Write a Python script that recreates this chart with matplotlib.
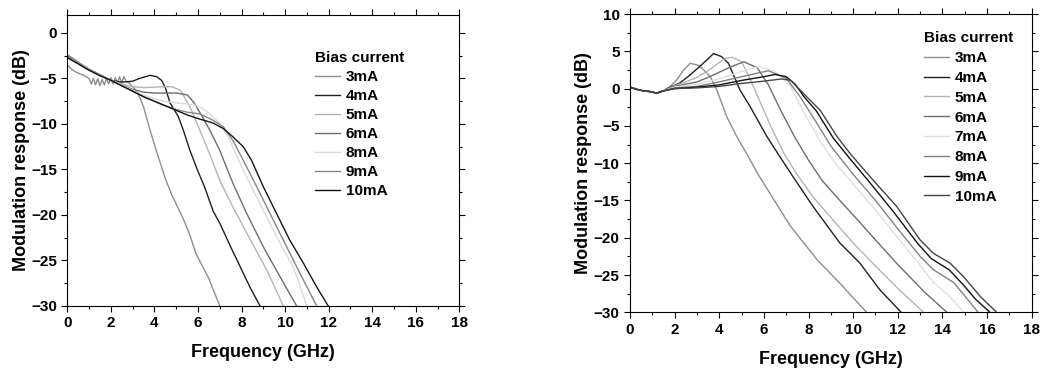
import matplotlib
matplotlib.use("Agg")
import matplotlib.pyplot as plt
from matplotlib.ticker import MultipleLocator

plt.rcParams['font.family'] = ['Liberation Sans', 'DejaVu Sans']
plt.rcParams['font.weight'] = 'bold'

# ---- left panel data (frequency GHz, response dB) ----
left_labels = ['3mA', '4mA', '5mA', '6mA', '8mA', '9mA', '10mA']
left_colors = ['#8e8e8e', '#202020', '#b4b4b4', '#6e6e6e', '#dadada', '#858585', '#151515']

l3_f = [0, 0.2, 0.4, 0.6, 0.8, 1.0, 1.1, 1.2, 1.3, 1.4, 1.5, 1.6, 1.7, 1.8, 1.9, 2.0, 2.1, 2.2, 2.3, 2.4, 2.5, 2.6, 2.7,
        2.85, 3.0, 3.2, 3.5, 3.8, 4.03, 4.3, 4.5, 4.8, 5.0, 5.3, 5.6, 5.9, 6.2, 6.5, 6.8, 7.0]
l3_d = [-3.5, -4.0, -4.3, -4.5, -4.7, -5.0, -5.6, -5.0, -5.7, -5.0, -5.8, -5.1, -5.7, -5.0, -5.6, -4.9, -5.6, -4.9, -5.5, -4.8,
        -5.5, -4.8, -5.3, -5.5, -5.9, -6.4, -8.1, -10.7, -12.5, -14.5, -16.0, -17.8, -18.8, -20.3, -22.0, -24.2, -25.6, -27.0, -28.8, -30.0]
l4_f = [0, 0.5, 1.0, 1.5, 2.0, 2.5, 3.0, 3.3, 3.6, 3.8, 4.1, 4.33, 4.5, 4.72, 5.1, 5.33, 5.63, 6.0, 6.3, 6.7, 7.0,
        7.5, 8.0, 8.4, 8.85]
l4_d = [-2.6, -3.3, -4.0, -4.6, -5.2, -5.4, -5.3, -5.0, -4.8, -4.65, -4.8, -5.2, -6.0, -7.7, -9.2, -10.7, -12.9, -15.2, -16.9, -19.6, -20.9,
        -23.5, -26.0, -28.0, -30.0]
l5_f = [0, 0.5, 1.0, 1.5, 2.0, 2.5, 3.0, 3.5, 4.0, 4.5, 4.8, 5.2, 5.63, 6.09, 6.4, 6.7, 7.0, 7.6, 8.4, 9.15, 9.92]
l5_d = [-2.4, -3.2, -4.0, -4.6, -5.2, -5.6, -5.9, -6.0, -5.95, -5.9, -5.9, -6.3, -8.1, -10.7, -12.5, -14.3, -16.2, -19.1, -22.7, -26.0, -30.0]
l6_f = [0, 0.5, 1.0, 1.5, 2.0, 2.5, 3.0, 3.5, 4.0, 4.5, 5.0, 5.5, 5.8, 6.1, 6.55, 7.0, 7.6, 8.23, 9.0, 9.77, 10.53]
l6_d = [-2.4, -3.2, -4.0, -4.6, -5.2, -5.7, -6.2, -6.5, -6.6, -6.6, -6.6, -6.8, -7.6, -8.8, -10.7, -12.9, -16.5, -19.8, -23.5, -26.8, -30.0]
l8_f = [0, 0.5, 1.0, 1.5, 2.0, 2.5, 3.0, 3.5, 4.0, 4.5, 5.0, 5.5, 6.0, 6.4, 7.0, 7.47, 7.93, 8.54, 9.15, 9.92, 10.38, 11.0]
l8_d = [-2.5, -3.3, -4.0, -4.6, -5.2, -5.7, -6.3, -6.8, -7.2, -7.5, -7.7, -7.8, -8.0, -8.6, -9.9, -11.8, -14.3, -17.3, -20.2, -23.8, -25.7, -30.0]
l9_f = [0, 0.5, 1.0, 1.5, 2.0, 2.5, 3.0, 3.5, 4.0, 4.5, 5.0, 5.5, 6.1, 6.7, 7.16, 7.6, 8.08, 8.7, 9.3, 10.07, 10.68, 11.45]
l9_d = [-2.5, -3.3, -4.0, -4.6, -5.2, -5.8, -6.4, -7.0, -7.5, -8.0, -8.4, -8.7, -8.9, -9.6, -10.3, -11.8, -14.0, -16.9, -19.8, -23.5, -26.4, -30.0]
l10_f = [0, 0.5, 1.0, 1.5, 2.0, 2.5, 3.0, 3.5, 4.0, 4.5, 5.0, 5.5, 6.0, 6.7, 7.16, 7.6, 8.08, 8.46, 9.0, 9.6, 10.2, 10.84, 11.45, 11.98]
l10_d = [-2.7, -3.4, -4.1, -4.7, -5.2, -5.8, -6.4, -7.0, -7.5, -8.0, -8.5, -9.0, -9.4, -9.9, -10.5, -11.4, -12.5, -14.0, -16.9, -19.8, -22.7, -25.3, -27.9, -30.0]

# ---- right panel data ----
right_labels = ['3mA', '4mA', '5mA', '6mA', '7mA', '8mA', '9mA', '10mA']
right_colors = ['#8e8e8e', '#202020', '#b4b4b4', '#6e6e6e', '#e0e0e0', '#828282', '#111111', '#444444']

base_f = [0, 0.3, 0.6, 0.9, 1.2, 1.5]
base_d = [0.2, -0.1, -0.3, -0.4, -0.6, -0.3]
r3_f = base_f + [1.8, 2.1, 2.4, 2.7, 3.1, 3.6, 3.89, 4.34, 4.78, 5.2, 5.8, 6.3, 7.2, 8.4, 9.4, 10.6]
r3_d = base_d + [0.3, 1.2, 2.5, 3.4, 3.1, 1.6, -0.2, -3.8, -6.4, -8.6, -11.8, -14.2, -18.5, -23.0, -26.1, -30.0]
r4_f = base_f + [1.8, 2.2, 2.6, 3.1, 3.5, 3.74, 4.1, 4.41, 4.93, 5.38, 6.13, 6.6, 7.3, 8.2, 9.4, 10.3, 11.2, 12.15]
r4_d = base_d + [0.2, 0.7, 1.6, 2.9, 4.0, 4.7, 4.3, 3.4, -0.2, -2.4, -6.4, -8.6, -11.8, -15.8, -20.7, -23.4, -27.0, -30.0]
r5_f = base_f + [2.0, 2.5, 3.0, 3.5, 4.0, 4.3, 4.6, 5.0, 5.3, 5.8, 6.3, 6.9, 7.5, 8.2, 9.0, 10.0, 11.0, 12.0, 13.15]
r5_d = base_d + [0.4, 0.9, 1.5, 2.4, 3.5, 4.1, 4.2, 3.6, 1.8, -1.6, -5.0, -8.7, -11.6, -14.5, -17.3, -20.7, -23.8, -26.8, -30.0]
r6_f = base_f + [2.0, 3.0, 3.5, 4.0, 4.5, 5.1, 5.7, 6.2, 6.8, 7.4, 8.0, 8.6, 9.4, 10.2, 11.0, 12.0, 13.2, 14.2]
r6_d = base_d + [0.3, 0.9, 1.5, 2.2, 2.9, 3.6, 2.8, 0.5, -3.2, -6.6, -9.6, -12.3, -15.0, -17.6, -20.3, -23.6, -27.3, -30.0]
r7_f = base_f + [2.0, 3.0, 4.0, 5.0, 5.8, 6.5, 7.2, 7.8, 8.5, 9.2, 10.0, 11.0, 12.0, 13.0, 13.6, 14.3, 14.95]
r7_d = base_d + [0.2, 0.6, 1.3, 2.3, 3.0, 2.3, 0.3, -3.2, -7.0, -10.0, -12.8, -16.3, -20.0, -23.7, -26.0, -27.8, -30.0]
r8_f = base_f + [2.0, 3.0, 4.0, 5.0, 6.2, 7.0, 7.6, 8.3, 9.0, 10.0, 11.0, 12.0, 13.0, 13.6, 14.5, 15.0, 15.6]
r8_d = base_d + [0.1, 0.3, 0.9, 1.6, 2.4, 1.4, -1.0, -4.3, -7.7, -11.5, -15.0, -18.8, -22.5, -24.3, -26.0, -27.8, -30.0]
r9_f = base_f + [2.0, 3.0, 4.0, 5.0, 6.0, 6.5, 7.0, 7.4, 7.8, 8.35, 9.1, 9.8, 10.8, 11.8, 12.9, 13.5, 14.3, 14.9, 15.5, 16.13]
r9_d = base_d + [0.0, 0.2, 0.5, 1.1, 1.6, 1.9, 1.6, 0.6, -1.1, -3.0, -6.6, -9.2, -12.8, -16.5, -20.8, -22.8, -24.3, -26.2, -28.3, -30.0]
r10_f = base_f + [2.0, 3.0, 4.0, 5.0, 6.0, 6.8, 7.2, 7.92, 8.52, 9.27, 9.86, 10.9, 11.95, 13.0, 13.6, 14.34, 14.94, 15.7, 16.43]
r10_d = base_d + [0.0, 0.1, 0.3, 0.7, 1.0, 1.3, 1.1, -1.1, -2.9, -6.4, -8.7, -12.3, -15.8, -20.3, -22.1, -23.4, -25.2, -27.9, -30.0]

left_f = [l3_f, l4_f, l5_f, l6_f, l8_f, l9_f, l10_f]
left_d = [l3_d, l4_d, l5_d, l6_d, l8_d, l9_d, l10_d]
right_f = [r3_f, r4_f, r5_f, r6_f, r7_f, r8_f, r9_f, r10_f]
right_d = [r3_d, r4_d, r5_d, r6_d, r7_d, r8_d, r9_d, r10_d]

fig = plt.figure(figsize=(10.4, 3.7), dpi=100)
ax1 = fig.add_axes([0.0647, 0.173, 0.377, 0.787])
ax2 = fig.add_axes([0.6058, 0.156, 0.3862, 0.806])


def style(ax, ylim, ymaj):
    ax.set_xlim(0, 18)
    ax.set_ylim(*ylim)
    ax.xaxis.set_major_locator(MultipleLocator(2))
    ax.xaxis.set_minor_locator(MultipleLocator(1))
    ax.yaxis.set_major_locator(MultipleLocator(ymaj))
    ax.yaxis.set_minor_locator(MultipleLocator(ymaj / 2))
    ax.tick_params(which='both', direction='out', top=True, right=True, labelsize=11, width=0.8)
    ax.tick_params(which='major', length=4)
    ax.tick_params(which='minor', length=2)
    for lab in ax.get_xticklabels() + ax.get_yticklabels():
        lab.set_fontweight('bold')
    for sp in ax.spines.values():
        sp.set_linewidth(0.8)
    ax.set_xlabel('Frequency (GHz)', fontsize=13, fontweight='bold', labelpad=10)
    ax.set_ylabel('Modulation response (dB)', fontsize=13, fontweight='bold', labelpad=1)


for f, d, c, lab in zip(left_f, left_d, left_colors, left_labels):
    ax1.plot(f, d, color=c, lw=1.0, label=lab)
for f, d, c, lab in zip(right_f, right_d, right_colors, right_labels):
    ax2.plot(f, d, color=c, lw=1.0, label=lab)

style(ax1, (-30, 2), 5)
style(ax2, (-30, 10), 5)
ax1.set_yticks([0, -5, -10, -15, -20, -25, -30])

for ax, anchor, sp in [(ax1, (0.632, 0.875), 0.33), (ax2, (0.732, 0.942), 0.38)]:
    leg = ax.legend(title='Bias current', frameon=False, loc='upper left', bbox_to_anchor=anchor,
                    borderpad=0, borderaxespad=0, handlelength=1.65, handletextpad=0.35,
                    labelspacing=sp, alignment='left', prop={'size': 11, 'weight': 'bold'},
                    title_fontproperties={'size': 11, 'weight': 'bold'})

fig.savefig('out.png', dpi=100)
